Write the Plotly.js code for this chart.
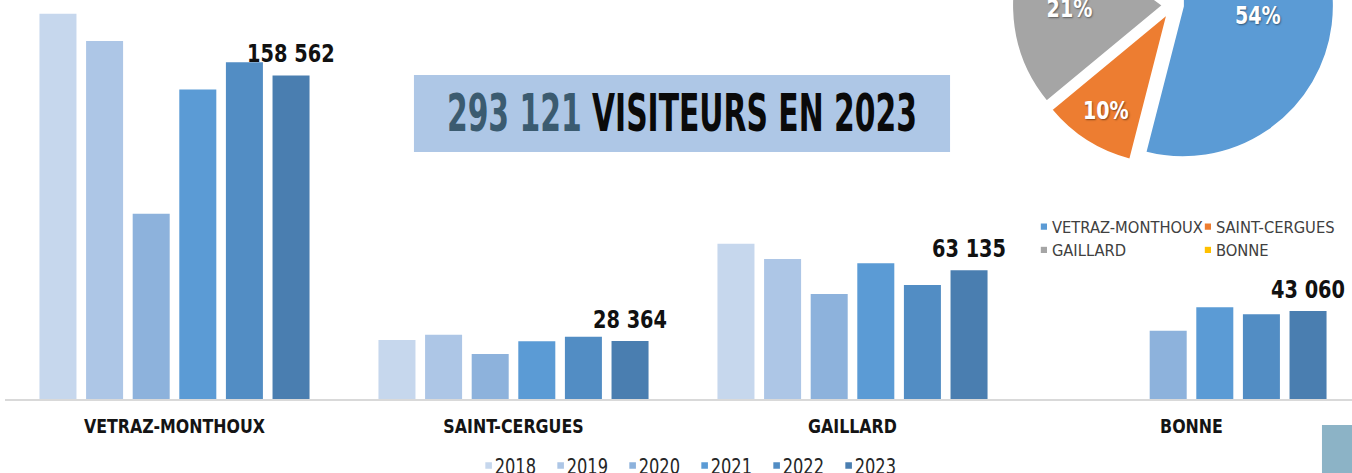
<!DOCTYPE html>
<html>
<head>
<meta charset="utf-8">
<script src="https://cdn.plot.ly/plotly-3.0.1.min.js"></script>
<style>
  html, body { margin: 0; padding: 0; background: #ffffff; }
  body { width: 1352px; height: 473px; overflow: hidden; position: relative; }
  #bars { position: absolute; left: 0; top: 0; width: 1352px; height: 473px; }
  #pie { position: absolute; left: 1000px; top: -180px; width: 360px; height: 450px; }
</style>
</head>
<body>
<div id="bars"></div>
<div id="pie"></div>
<script>
// ---- data ----
const communes = ["VETRAZ-MONTHOUX", "SAINT-CERGUES", "GAILLARD", "BONNE"];
const years = ["2018", "2019", "2020", "2021", "2022", "2023"];
const v2018 = [188800, 28900, 76100, null];
const v2019 = [175400, 31500, 68600, null];
const v2020 = [90800, 22000, 51500, 33500];
const v2021 = [151600, 28300, 66500, 44900];
const v2022 = [165000, 30500, 55900, 41500];
const v2023 = [158562, 28364, 63135, 43060];
const pieShares = [54, 10, 21, 15];   // % of 2023 visitors, as printed
const titleSuffix = " VISITEURS EN 2023";

// ---- styles ----
const yearColors = ["#c6d7ed", "#adc6e6", "#8db2dc", "#5b9bd5", "#528dc4", "#4a7eb0"];
const pieColors = ["#5b9bd5", "#ed7d31", "#a5a5a5", "#ffc000"];
const NARROW = "'DejaVu Sans Condensed', 'DejaVu Sans', sans-serif";
const BARGAP = 0.175, BARGROUPGAP = 0.206;

function fmt(n) { return String(n).replace(/\B(?=(\d{3})+(?!\d))/g, " "); }

const series = [v2018, v2019, v2020, v2021, v2022, v2023];
const traces = series.map((vals, i) => ({
  type: "bar",
  name: years[i],
  x: communes,
  y: vals,
  marker: { color: yearColors[i], line: { width: 0 } },
  hoverinfo: "skip"
}));
// invisible spacer entry so the last legend label is not clipped
traces.push({
  type: "scatter", mode: "markers", name: "\u00a0",
  x: [communes[0]], y: [null],
  marker: { opacity: 0, color: "#ffffff" },
  showlegend: true, hoverinfo: "skip"
});

// labels above the 2023 bars
const nYears = years.length;
const off2023 = ((nYears - 1) / 2) * (1 - BARGAP) / nYears;
const valueAnn = v2023.map((v, i) => ({
  x: i + off2023, y: v, xref: "x", yref: "y",
  text: "<b>" + fmt(v) + "</b>",
  showarrow: false, xanchor: "center", yanchor: "bottom", yshift: 5,
  font: { family: NARROW, size: 25, color: "#111111" }
}));

const total = v2023.reduce((a, b) => a + b, 0);
const titleAnn = {
  xref: "paper", yref: "paper", x: 0.5026, y: 0.7155,
  xanchor: "center", yanchor: "middle",
  showarrow: false,
  text: "<b><span style='color:#3b5b70'>" + fmt(total) + "</span>" + titleSuffix + "</b>",
  font: { family: NARROW, size: 51, color: "#0a0a0a" }
};

const barLayout = {
  width: 1352, height: 473,
  margin: { l: 5, r: 0, t: 0, b: 74, autoexpand: false },
  paper_bgcolor: "#ffffff", plot_bgcolor: "#ffffff",
  barmode: "group", bargap: BARGAP, bargroupgap: BARGROUPGAP,
  xaxis: {
    type: "category",
    range: [-0.5, -0.5 + 1347 / 339],
    showline: true, linecolor: "#d9d9d9", linewidth: 1.5,
    ticks: "", showgrid: false, zeroline: false,
    tickfont: { family: NARROW, size: 20, color: "#141414", weight: "bold" },
    ticklabelstandoff: 8
  },
  yaxis: { range: [0, 399 * 490], visible: false, showgrid: false, zeroline: false },
  showlegend: true,
  legend: {
    orientation: "h", x: 0.3338, xanchor: "left", y: -0.116, yanchor: "top",
    font: { family: NARROW, size: 21, color: "#262626" },
    entrywidth: 27, traceorder: "normal"
  },
  annotations: [titleAnn].concat(valueAnn),
  shapes: [
    {
      type: "rect", xref: "paper", yref: "paper",
      x0: 0.3036, x1: 0.7016, y0: 0.619, y1: 0.812,
      fillcolor: "#aec7e6", line: { width: 0 }, layer: "below"
    },
    {
      type: "rect", xref: "paper", yref: "paper",
      x0: 0.9777, x1: 1.01, y0: -0.2, y1: -0.065,
      fillcolor: "#8cb3c6", line: { width: 0 }, layer: "above"
    }
  ]
};

function squeeze(el, target) {
  if (!el || !el.getComputedTextLength) return;
  const w = el.getComputedTextLength();
  if (!w) return;
  const t = target < 1.5 ? w * target : target;
  el.setAttribute("textLength", t);
  el.setAttribute("lengthAdjust", "spacingAndGlyphs");
}
function shrinkSymbols(gd, dx, s) {
  gd.querySelectorAll(".legendpoints path").forEach(p => {
    const old = p.getAttribute("transform") || "";
    p.setAttribute("transform", old + " translate(" + dx + ",0) scale(" + s + ")");
  });
}

Plotly.newPlot("bars", traces, barLayout, { displayModeBar: false, staticPlot: true }).then(gd => {
  gd.querySelectorAll(".annotation").forEach(a => {
    const idx = +a.getAttribute("data-index");
    const t = a.querySelector("text.annotation-text");
    if (idx === 0) squeeze(t, 470);
    else squeeze(t, 0.86);
  });
  gd.querySelectorAll(".xtick text").forEach(t => squeeze(t, 0.88));
  gd.querySelectorAll(".legend text.legendtext").forEach(t => squeeze(t, 0.86));
  shrinkSymbols(gd, 14, 0.55);
});

const pieTrace = {
  type: "pie",
  labels: communes,
  values: pieShares,
  sort: false,
  direction: "clockwise",
  rotation: 0,
  pull: 0.066,
  marker: { colors: pieColors, line: { color: "#ffffff", width: 2 } },
  texttemplate: "<b>%{value}%</b>",
  textposition: "inside",
  insidetextorientation: "horizontal",
  textfont: { family: NARROW, size: 25, color: "#ffffff", shadow: "1px 1px 2px rgba(0,0,0,0.45)" },
  domain: { x: [0.0333, 0.9278], y: [0.039, 0.933] },
  hoverinfo: "skip"
};

const pieLayout = {
  width: 360, height: 450,
  margin: { l: 0, r: 0, t: 0, b: 90, autoexpand: false },
  paper_bgcolor: "rgba(0,0,0,0)", plot_bgcolor: "rgba(0,0,0,0)",
  showlegend: true,
  legend: {
    orientation: "h", x: 0.033, xanchor: "left", y: -0.0837, yanchor: "top",
    font: { family: "'DejaVu Sans', sans-serif", size: 15.5, color: "#404040" },
    entrywidth: 119, traceorder: "normal"
  }
};

Plotly.newPlot("pie", [pieTrace], pieLayout, { displayModeBar: false, staticPlot: true }).then(gd => {
  gd.querySelectorAll(".slicetext text").forEach(t => squeeze(t, 0.85));
  gd.querySelectorAll(".legend text.legendtext").forEach(t => squeeze(t, 0.95));
  shrinkSymbols(gd, 12, 0.62);
});
</script>
</body>
</html>
